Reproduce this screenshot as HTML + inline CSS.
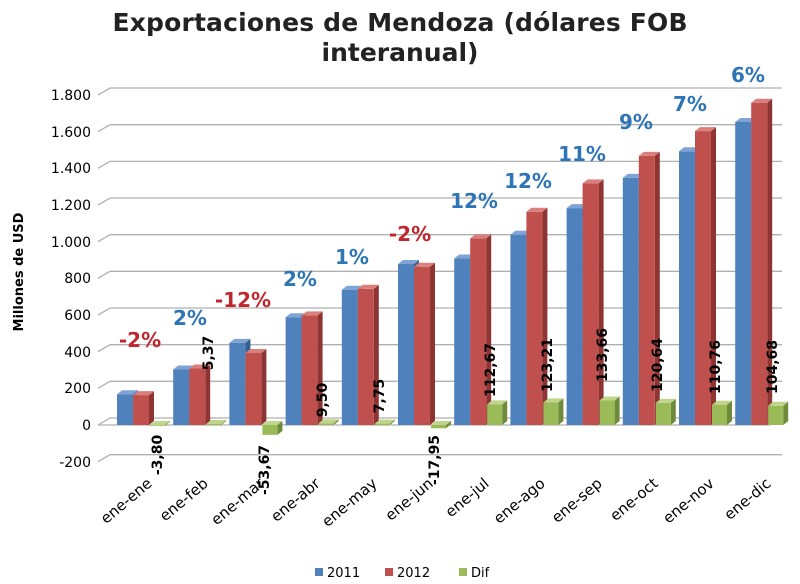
<!DOCTYPE html>
<html><head><meta charset="utf-8"><style>
body{margin:0;background:#fff}
svg{display:block}
text{font-family:"DejaVu Sans","Liberation Sans",sans-serif}
</style></head><body>
<svg id="s" width="800" height="584" viewBox="0 0 800 584" xmlns="http://www.w3.org/2000/svg">
<g id="grid"></g>
<g id="bars"></g>
<text x="400" y="31" font-size="25" font-weight="bold" text-anchor="middle" fill="#222" textLength="575">Exportaciones de Mendoza (dólares FOB</text>
<text x="400" y="61" font-size="25" font-weight="bold" text-anchor="middle" fill="#222">interanual)</text>
<text transform="translate(23,272) rotate(-90)" font-size="13" font-weight="bold" text-anchor="middle" fill="#000">Millones de USD</text>
<g font-size="14" text-anchor="end" fill="#000">
<text x="91" y="100">1.800</text><text x="91" y="137">1.600</text><text x="91" y="173">1.400</text>
<text x="91" y="210">1.200</text><text x="91" y="247">1.000</text><text x="91" y="283">800</text>
<text x="91" y="320">600</text><text x="91" y="357">400</text><text x="91" y="393">200</text>
<text x="91" y="430">0</text><text x="91" y="467">-200</text>
</g>
<g font-size="20" font-weight="bold" text-anchor="middle">
<text x="140" y="347" fill="#c0272d">-2%</text>
<text x="190" y="325" fill="#2e75b6">2%</text>
<text x="243" y="307" fill="#c0272d">-12%</text>
<text x="300" y="286" fill="#2e75b6">2%</text>
<text x="352" y="264" fill="#2e75b6">1%</text>
<text x="410" y="241" fill="#c0272d">-2%</text>
<text x="474" y="208" fill="#2e75b6">12%</text>
<text x="528" y="188" fill="#2e75b6">12%</text>
<text x="582" y="161" fill="#2e75b6">11%</text>
<text x="636" y="129" fill="#2e75b6">9%</text>
<text x="690" y="111" fill="#2e75b6">7%</text>
<text x="748" y="82" fill="#2e75b6">6%</text>
</g>
<g font-size="14" font-weight="bold" text-anchor="middle" fill="#000">
<text transform="translate(162,455) rotate(-90)">-3,80</text>
<text transform="translate(213,353) rotate(-90)">5,37</text>
<text transform="translate(269,470) rotate(-90)">-53,67</text>
<text transform="translate(327,400) rotate(-90)">9,50</text>
<text transform="translate(384,396) rotate(-90)">7,75</text>
<text transform="translate(439,460) rotate(-90)">-17,95</text>
<text transform="translate(495,370) rotate(-90)">112,67</text>
<text transform="translate(552,365) rotate(-90)">123,21</text>
<text transform="translate(607,355) rotate(-90)">133,66</text>
<text transform="translate(662,365) rotate(-90)">120,64</text>
<text transform="translate(720,367) rotate(-90)">110,76</text>
<text transform="translate(777,367) rotate(-90)">104,68</text>
</g>
<g font-size="15" text-anchor="end" fill="#000">
<text transform="translate(153,485) rotate(-40)">ene-ene</text>
<text transform="translate(209,485) rotate(-40)">ene-feb</text>
<text transform="translate(265,485) rotate(-40)">ene-mar</text>
<text transform="translate(321,485) rotate(-40)">ene-abr</text>
<text transform="translate(378,485) rotate(-40)">ene-may</text>
<text transform="translate(434,485) rotate(-40)">ene-jun</text>
<text transform="translate(490,485) rotate(-40)">ene-jul</text>
<text transform="translate(546,485) rotate(-40)">ene-ago</text>
<text transform="translate(603,485) rotate(-40)">ene-sep</text>
<text transform="translate(659,485) rotate(-40)">ene-oct</text>
<text transform="translate(715,485) rotate(-40)">ene-nov</text>
<text transform="translate(772,485) rotate(-40)">ene-dic</text>
</g>
<rect x="315" y="568" width="8" height="8" fill="#4f81bd"/><text x="327" y="577" font-size="13">2011</text>
<rect x="385" y="568" width="8" height="8" fill="#c0504d"/><text x="397" y="577" font-size="13">2012</text>
<rect x="459" y="568" width="8" height="8" fill="#9bbb59"/><text x="471" y="577" font-size="13">Dif</text>
</svg>
<script>
var NS="http://www.w3.org/2000/svg";
function el(p,t,a){var e=document.createElementNS(NS,t);for(var k in a)e.setAttribute(k,a[k]);p.appendChild(e);return e;}
var g=document.getElementById("grid"),b=document.getElementById("bars");
function Y(v){return 425-v*0.18333;}
for(var v=-200;v<=1800;v+=200){var y=Y(v);
 el(g,"line",{x1:110,y1:y-7,x2:782,y2:y-7,stroke:"#b0b0b0","stroke-width":1.3});
 el(g,"line",{x1:98,y1:y,x2:110,y2:y-7,stroke:"#b0b0b0","stroke-width":1.3});}
el(g,"line",{x1:98,y1:425,x2:770,y2:425,stroke:"#b0b0b0","stroke-width":1.3});
el(g,"line",{x1:770,y1:425,x2:782,y2:418,stroke:"#b0b0b0","stroke-width":1.3});
var a=[168,303,448,588,738,878,908,1038,1183,1348,1493,1653];
var c=[163,308,393,598,743,863,1018,1163,1318,1468,1603,1758];
var d=[-3.8,5.37,-53.67,9.5,7.75,-17.95,112.67,123.21,133.66,120.64,110.76,104.68];
var cols=[["#4f81bd","#7fa3d4","#34608f"],["#c0504d","#d9807d","#8e3533"],["#9bbb59","#bfd68a","#6f8a3a"]];
function bar(x,w,v,col){var y0=Y(0),y1=Y(v),top=Math.min(y0,y1),h=Math.abs(y1-y0);var dx=5,dy=-4;
 el(b,"polygon",{points:(x+w)+","+top+" "+(x+w+dx)+","+(top+dy)+" "+(x+w+dx)+","+(top+h+dy)+" "+(x+w)+","+(top+h),fill:col[2]});
 el(b,"rect",{x:x,y:top,width:w,height:Math.max(h,0.5),fill:col[0]});
 el(b,"polygon",{points:x+","+top+" "+(x+dx)+","+(top+dy)+" "+(x+w+dx)+","+(top+dy)+" "+(x+w)+","+top,fill:col[1]});}
for(var i=0;i<12;i++){var x=117+i*56.2;
 bar(x,16,a[i],cols[0]);bar(x+16,16,c[i],cols[1]);bar(x+33,15,d[i],cols[2]);}
</script>
</body></html>
